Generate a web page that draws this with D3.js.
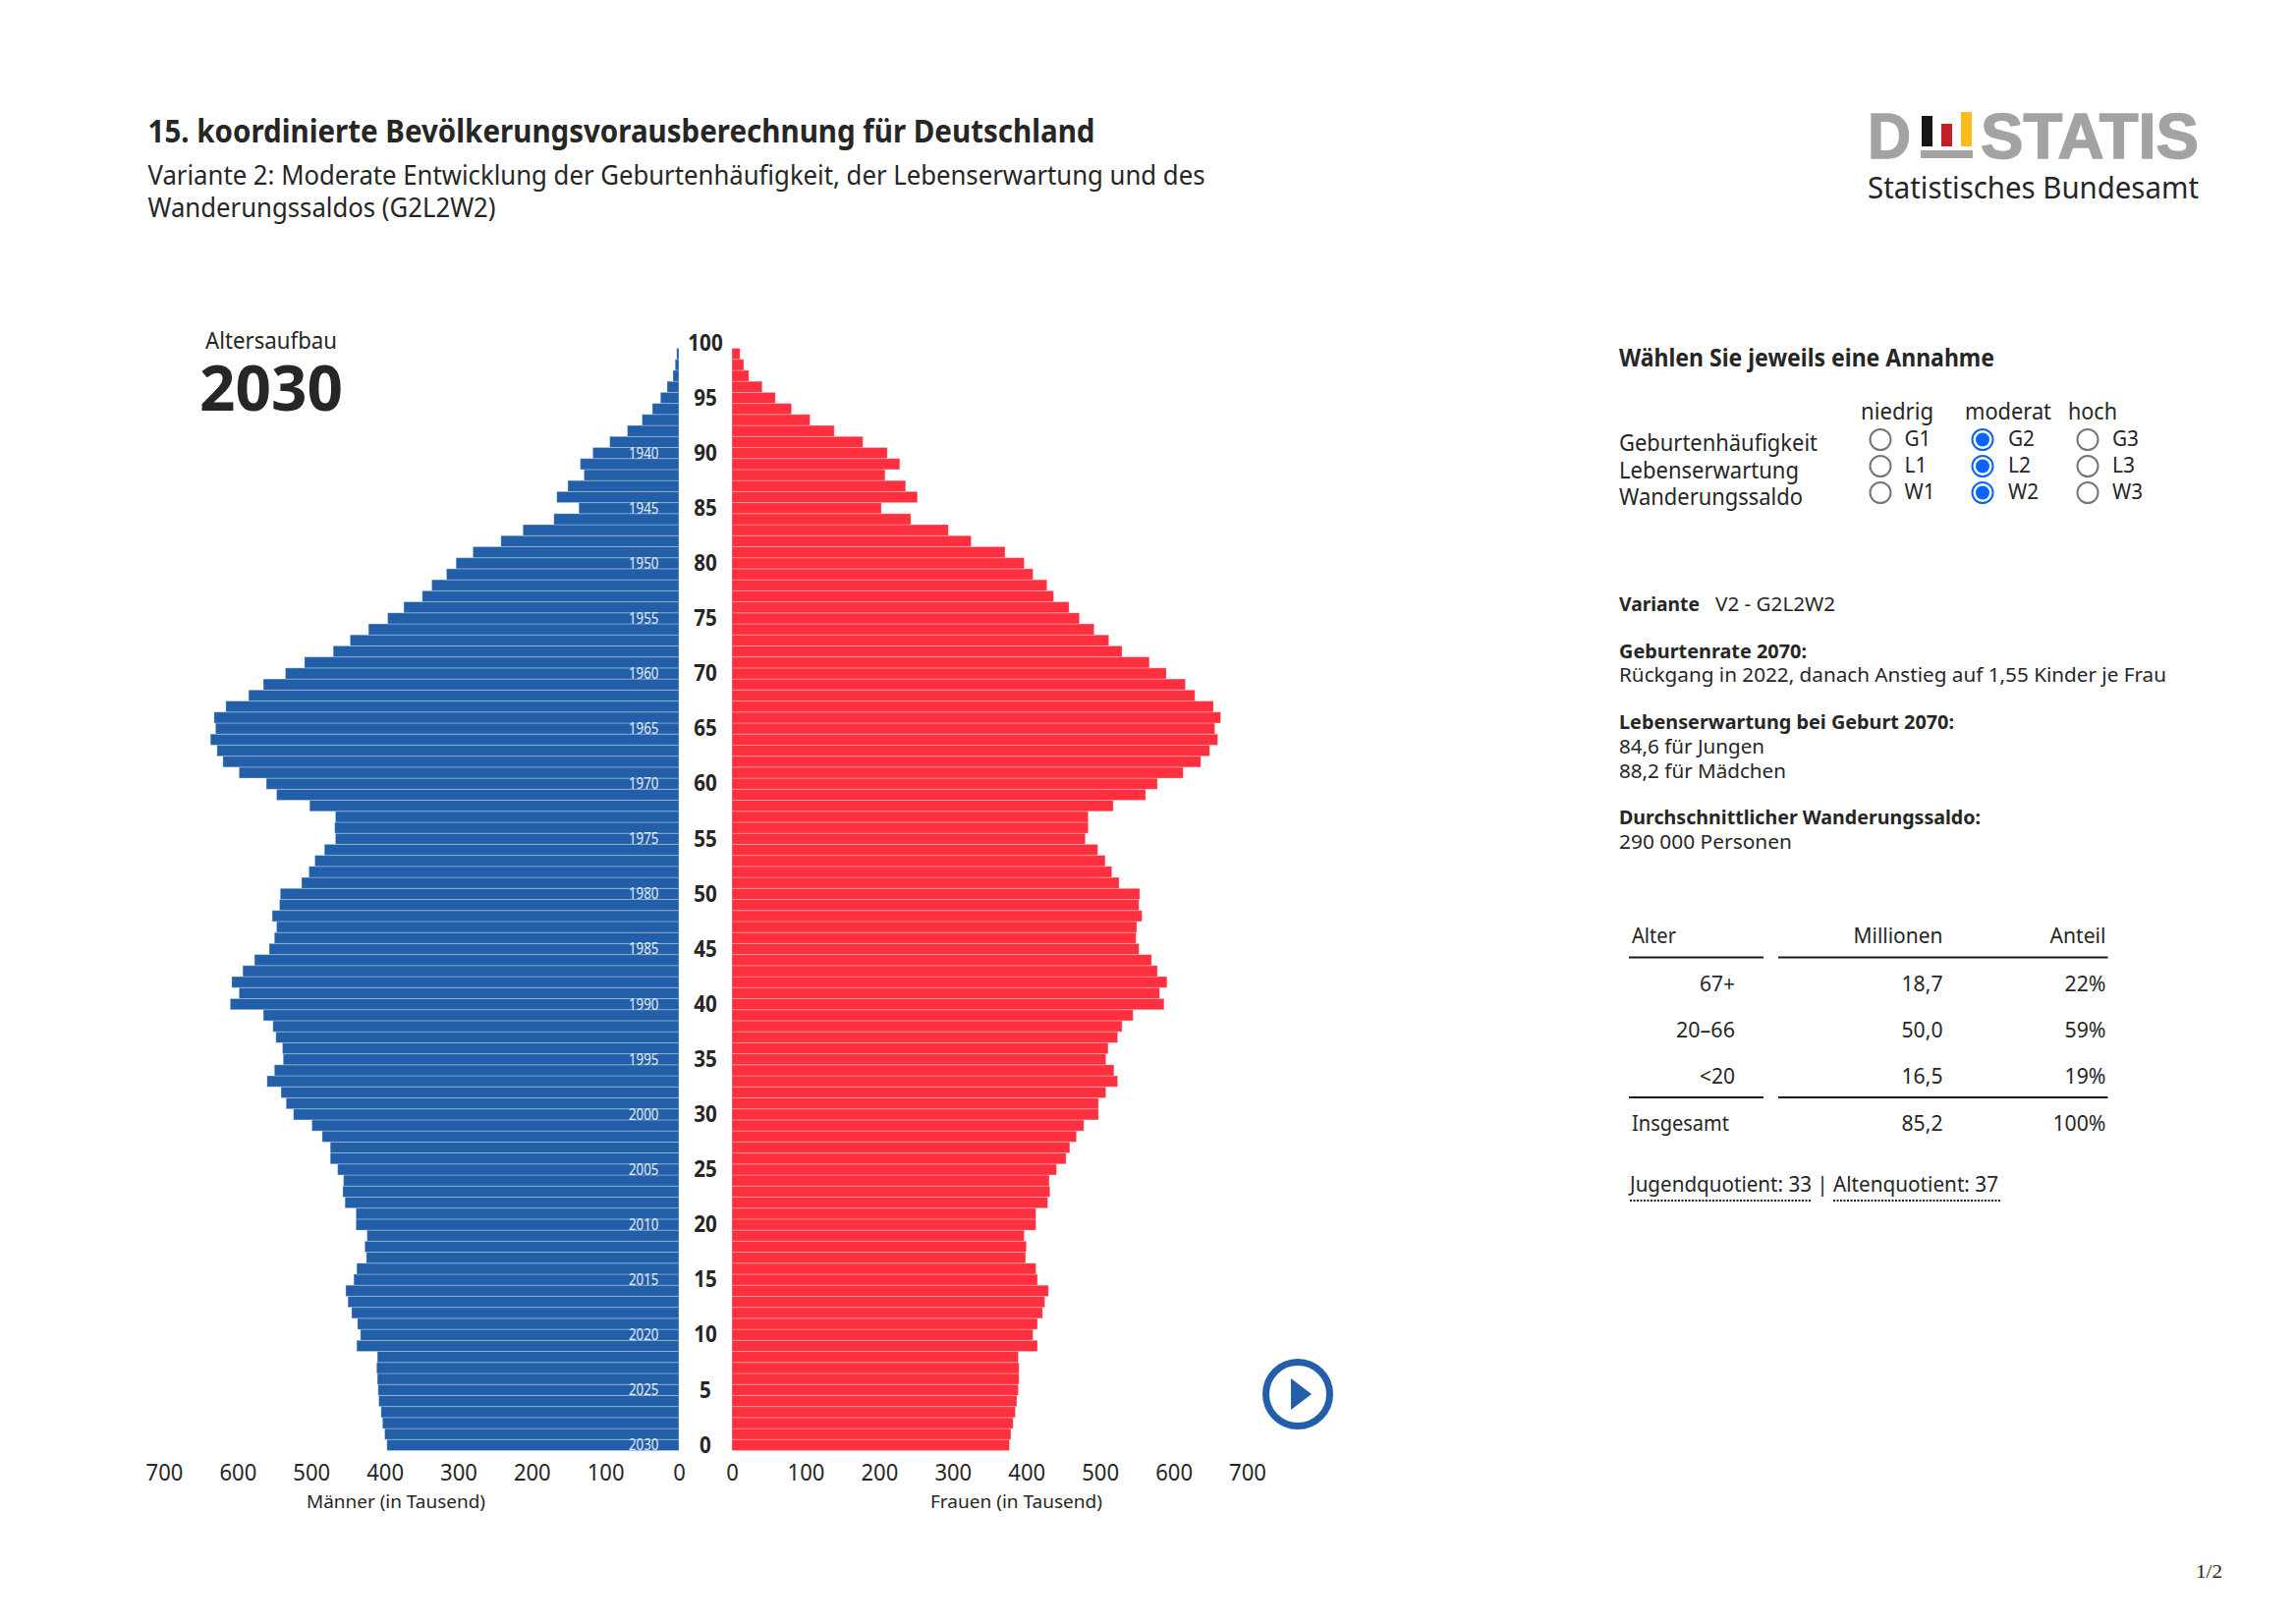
<!DOCTYPE html>
<html><head><meta charset="utf-8">
<script src="https://cdnjs.cloudflare.com/ajax/libs/d3/7.8.5/d3.min.js"></script>
<style>html,body{margin:0;padding:0;background:#fff}svg{display:block}text{font-family:"Noto Sans",sans-serif;fill:#262626}</style>
</head><body><svg id="c" width="2336" height="1653"></svg>
<script>
// values by age 0 .. 99, in thousands
const ages = d3.range(0,100);
const men = [397,400,403,405,408,409,410,411,410,438,433,437,445,450,453,442,438,425,427,424,
439,439,454,457,456,464,474,474,485,499,524,534,541,560,550,538,539,548,552,565,
610,598,608,593,577,557,550,547,553,543,542,513,503,495,482,467,468,467,502,547,
561,598,620,628,637,630,632,616,585,565,535,509,470,447,422,396,374,349,336,316,
303,280,242,212,170,136,166,151,129,134,117,94,70,50,36,25,16,8,5,3];
const women = [377,379,382,385,387,389,390,390,389,415,409,415,422,425,430,415,413,399,400,397,
413,413,429,432,431,441,454,459,468,478,498,498,508,524,519,508,511,524,530,545,
587,581,591,578,570,553,549,550,557,553,554,526,516,507,497,480,484,484,518,562,
578,613,637,649,660,656,664,654,629,616,590,567,530,512,492,472,458,437,428,409,
397,371,325,294,243,203,252,236,208,228,211,178,139,106,81,59,41,23,16,11];
const valueTicks = [0,100,200,300,400,500,600,700];
const ageTicks = d3.range(0,101,5);
const yearAges = d3.range(0,91,5);
const radioRows = [["Geburtenhäufigkeit","G"],["Lebenserwartung","L"],["Wanderungssaldo","W"]];
const radioCols = [1,2,3];
const selectedCol = 2;
const tableRows = [["67+","18,7","22%"],["20–66","50,0","59%"],["<20","16,5","19%"]];
const tableTotal = ["Insgesamt","85,2","100%"];
const BLUE="#225fa8", RED="#fe3040";

const svg=d3.select("#c");
svg.append("rect").attr("width",2336).attr("height",1653).attr("fill","#fff");
function T(s,x,y,o={}){
  const t=svg.append("text").text(s).attr("x",x).attr("y",y)
   .style("font-size",(o.size||21)+"px").style("font-weight",o.weight||400)
   .attr("text-anchor",o.anchor||"start");
  if(o.w){t.attr("textLength",o.w).attr("lengthAdjust","spacingAndGlyphs");}
  if(o.fill)t.style("fill",o.fill);
  if(o.family)t.style("font-family",o.family);
  if(o.stroke)t.style("stroke",o.fill).style("stroke-width",o.stroke);
  return t;
}
// header
T("15. koordinierte Bevölkerungsvorausberechnung für Deutschland",150.5,145,{size:33,weight:700,w:964});
T("Variante 2: Moderate Entwicklung der Geburtenhäufigkeit, der Lebenserwartung und des",150.5,188,{size:27,w:1076});
T("Wanderungssaldos (G2L2W2)",150.5,221,{size:27,w:354});

// logo
const gray="#a3a3a3";
T("D",1901,161,{size:65,weight:700,fill:gray,family:"Liberation Sans",w:44,stroke:1.5});
T("STATIS",2016,161,{size:65,weight:700,fill:gray,family:"Liberation Sans",w:222,stroke:1.5});
[[1956,118,11,31,"#151515"],[1976,126,11,23,"#c41e2b"],[1996,114,11,35,"#fdbc1d"],[1955,153,53,8,gray]].forEach(r=>{
  svg.append("rect").attr("x",r[0]).attr("y",r[1]).attr("width",r[2]).attr("height",r[3]).attr("fill",r[4]);
});
T("Statistisches Bundesamt",1901,202,{size:30,w:337});

// scales
const y=d3.scaleLinear().domain([-0.5,99.5]).range([1476.5,354.5]);
const xL=d3.scaleLinear().domain([0,700]).range([691,167]);
const xR=d3.scaleLinear().domain([0,700]).range([745,1269.5]);

function bars(vals,x,color,left){
  svg.append("g").selectAll("rect").data(ages).join("rect")
   .attr("x",a=>left?x(vals[a]):x(0))
   .attr("width",a=>Math.abs(x(vals[a])-x(0)))
   .attr("y",a=>y(a+.5)).attr("height",a=>y(a-.5)-y(a+.5))
   .attr("fill",color).attr("stroke","#fff").attr("stroke-opacity",.28).attr("stroke-width",1);
}
bars(men,xL,BLUE,true);
bars(women,xR,RED,false);

// birth-year labels in the bars
svg.append("g").selectAll("text").data(yearAges).join("text")
 .text(a=>2030-a).attr("x",670.5).attr("y",a=>y(a)+5.5).attr("text-anchor","end")
 .attr("textLength",30.5).attr("lengthAdjust","spacingAndGlyphs")
 .style("font-size","16px").style("fill","#e3ecf6");

// age axis
const ageAxis=svg.append("g").attr("transform","translate(718,-1)")
 .call(d3.axisRight(y).tickValues(ageTicks).tickSize(0).tickPadding(0));
ageAxis.select(".domain").remove();
ageAxis.selectAll("text").attr("text-anchor","middle").attr("dy","0.36em")
 .style("font-size","23px").style("font-weight",700).style("font-family",'"Noto Sans"')
 .attr("textLength",d=>String(d).length*11.8).attr("lengthAdjust","spacingAndGlyphs");

// value axes
[[xL,"Männer (in Tausend)",403,182],[xR,"Frauen (in Tausend)",1034.5,175]].forEach(([sc,lab,cx,w])=>{
  const g=svg.append("g").attr("transform","translate(0,1506.5)")
   .call(d3.axisBottom(sc).tickValues(valueTicks).tickSize(0).tickPadding(0));
  g.select(".domain").remove();
  g.selectAll("text").attr("dy",0).attr("y",0).style("font-size","23px").style("font-family",'"Noto Sans"')
   .attr("textLength",d=>String(d).length*12.6).attr("lengthAdjust","spacingAndGlyphs");
  T(lab,cx,1534.5,{size:18,anchor:"middle",w});
});

T("Altersaufbau",276,354.5,{size:23,anchor:"middle",w:134});
T("2030",276,418,{size:64,weight:700,anchor:"middle",w:146});

// play button
svg.append("circle").attr("cx",1321).attr("cy",1419).attr("r",32.5).attr("fill","none").attr("stroke",BLUE).attr("stroke-width",7);
svg.append("path").attr("d","M1314,1403L1335,1419L1314,1435Z").attr("fill",BLUE);

// selection panel
T("Wählen Sie jeweils eine Annahme",1648,372.5,{size:25,weight:700,w:382});
T("niedrig",1894,426.5,{size:23,w:74});
T("moderat",2000,426.5,{size:23,w:88});
T("hoch",2105,426.5,{size:23,w:50});
const colX=[1914,2018,2125], labX=[1938.5,2044,2150], rowY=[447.5,474.5,501.5], lblY=[459,486.5,514], lblW=[202,183,187], rowBase=[453.5,480.5,507.5];
radioRows.forEach(([lab,pre],i)=>{
  T(lab,1648,lblY[i],{size:23,w:lblW[i]});
  radioCols.forEach((c,j)=>{
    const sel=c===selectedCol;
    svg.append("circle").attr("cx",colX[j]).attr("cy",rowY[i]).attr("r",10.5).attr("fill","#fff")
      .attr("stroke",sel?"#0b63ff":"#767676").attr("stroke-width",2);
    if(sel)svg.append("circle").attr("cx",colX[j]).attr("cy",rowY[i]).attr("r",7).attr("fill","#0b63ff");
    T(pre+c,labX[j],rowBase[i],{size:22,w:pre==="W"?31:(pre==="G"?27:23)});
  });
});

// description
T("Variante",1648,621.5,{size:20,weight:700,w:82});
T("V2 - G2L2W2",1746,621.5,{size:20,w:122});
T("Geburtenrate 2070:",1648,669.5,{size:20,weight:700,w:191});
T("Rückgang in 2022, danach Anstieg auf 1,55 Kinder je Frau",1648,694,{size:20,w:557});
T("Lebenserwartung bei Geburt 2070:",1648,741.5,{size:20,weight:700,w:341});
T("84,6 für Jungen",1648,766.5,{size:20,w:148});
T("88,2 für Mädchen",1648,791.5,{size:20,w:170});
T("Durchschnittlicher Wanderungssaldo:",1648,838.5,{size:20,weight:700,w:368});
T("290 000 Personen",1648,863.5,{size:20,w:176});

// table
T("Alter",1661,959.5,{size:21,w:45});
T("Millionen",1977.5,959.5,{size:21,anchor:"end",w:91});
T("Anteil",2143.5,959.5,{size:21,anchor:"end",w:57});
const rule=(yy)=>{[[1658,1795],[1810,2145.5]].forEach(([a,b])=>svg.append("line").attr("x1",a).attr("x2",b).attr("y1",yy).attr("y2",yy).attr("stroke","#1c1c1c").attr("stroke-width",2));};
rule(974.5);rule(1117);
const rowB=[1008.5,1055.5,1102.5];
tableRows.forEach((r,i)=>{
  T(r[0],1766,rowB[i],{size:21,anchor:"end",w:r[0].length*(r[0]==="20–66"?12:12)});
  T(r[1],1977.5,rowB[i],{size:21,anchor:"end",w:42});
  T(r[2],2143.5,rowB[i],{size:21,anchor:"end",w:42});
});
T(tableTotal[0],1661,1150.5,{size:21,w:99});
T(tableTotal[1],1977.5,1150.5,{size:21,anchor:"end",w:42});
T(tableTotal[2],2143.5,1150.5,{size:21,anchor:"end",w:54});
T("Jugendquotient: 33",1659,1212.5,{size:21,w:185});
T("|",1855,1212.5,{size:21,anchor:"middle"});
T("Altenquotient: 37",1866,1212.5,{size:21,w:168});
[[1659,1844],[1866,2036]].forEach(([a,b])=>svg.append("line").attr("x1",a).attr("x2",b).attr("y1",1222).attr("y2",1222).attr("stroke","#1c1c1c").attr("stroke-width",2).attr("stroke-dasharray","2 1.5"));

T("1/2",2235,1606,{size:19,family:"Liberation Serif",w:27});
</script></body></html>
